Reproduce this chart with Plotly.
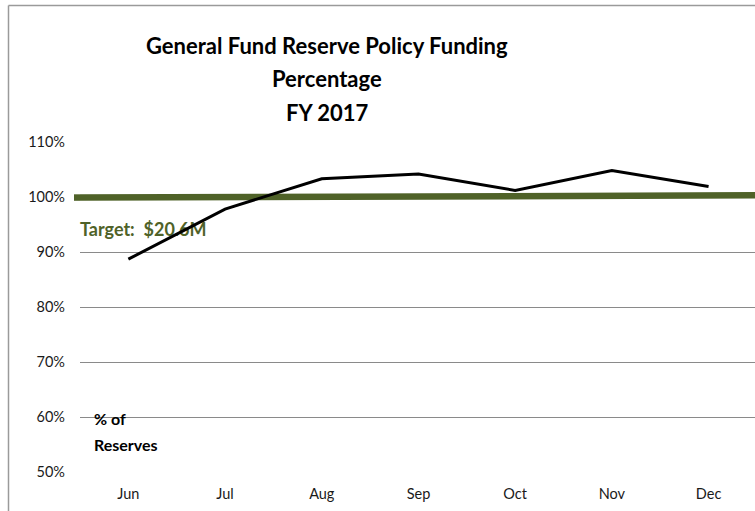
import plotly.graph_objects as go

# Monthly reserve funding level, percent of policy target
months = ["Jun", "Jul", "Aug", "Sep", "Oct", "Nov", "Dec"]
reserve_pct = [88.7, 97.8, 103.3, 104.2, 101.2, 104.8, 101.9]

# Target line (policy funding level), drawn across the full width
target_pct = [99.9, 100.3]
target_label = "Target:\u00a0\u00a0$20.6M"

y_ticks = [50, 60, 70, 80, 90, 100, 110]

W, H = 755, 511
ML, MR, MT, MB = 80, 0, 142, 39
X_RANGE = [-0.5, 6.48]
Y_RANGE = [50, 110]

FONT = "Lato"
OLIVE = "#4F6228"
GRID = "#8A8A8A"

x_idx = list(range(len(months)))

fig = go.Figure()

# Target bar line
fig.add_trace(go.Scatter(
    x=[X_RANGE[0], X_RANGE[1]], y=target_pct,
    mode="lines", line=dict(color=OLIVE, width=6.5),
    hoverinfo="skip", showlegend=False,
))

# Target label (kept below the reserve line)
fig.add_trace(go.Scatter(
    x=[X_RANGE[0]], y=[93.7], mode="text", text=[f"<b>{target_label}</b>"],
    textposition="middle right",
    textfont=dict(family=FONT, size=18, color=OLIVE),
    cliponaxis=False, hoverinfo="skip", showlegend=False,
))

# Reserve percentage line
fig.add_trace(go.Scatter(
    x=x_idx, y=reserve_pct, mode="lines",
    line=dict(color="#000000", width=3),
    showlegend=False,
))

plot_w = W - ML - MR
plot_h = H - MT - MB


def px_to_paper_x(px):
    return (px - ML) / plot_w


def px_to_paper_y(py):
    return (H - MB - py) / plot_h


title_lines = ["General Fund Reserve Policy Funding", "Percentage", "FY 2017"]
title_y = [45, 78, 112]
annotations = []
for line, ty in zip(title_lines, title_y):
    annotations.append(dict(
        text=f"<b>{line}</b>", x=px_to_paper_x(327), y=px_to_paper_y(ty),
        xref="paper", yref="paper", xanchor="center", yanchor="middle",
        showarrow=False, font=dict(family=FONT, size=22, color="#000000"),
    ))

annotations.append(dict(
    text="<b>% of</b>", x=px_to_paper_x(92), y=px_to_paper_y(418),
    xref="paper", yref="paper", xanchor="left", yanchor="middle",
    showarrow=False, font=dict(family=FONT, size=16, color="#000000"),
))
annotations.append(dict(
    text="<b>Reserves</b>", x=px_to_paper_x(92), y=px_to_paper_y(444),
    xref="paper", yref="paper", xanchor="left", yanchor="middle",
    showarrow=False, font=dict(family=FONT, size=16, color="#000000"),
))

# Chart frame (top and left edges) and the target bar's short lead-in
shapes = [
    dict(type="line", xref="paper", yref="paper",
         x0=px_to_paper_x(8.5), x1=px_to_paper_x(W + 5),
         y0=px_to_paper_y(5.5), y1=px_to_paper_y(5.5),
         line=dict(color="#9A9A9A", width=1.5)),
    dict(type="line", xref="paper", yref="paper",
         x0=px_to_paper_x(8.5), x1=px_to_paper_x(8.5),
         y0=px_to_paper_y(5.5), y1=px_to_paper_y(H + 5),
         line=dict(color="#9A9A9A", width=1.5)),
    dict(type="line", xref="paper", yref="y",
         x0=px_to_paper_x(74), x1=0,
         y0=target_pct[0], y1=target_pct[0],
         line=dict(color=OLIVE, width=6.5), layer="below"),
]

fig.update_layout(
    width=W, height=H,
    margin=dict(l=ML, r=MR, t=MT, b=MB, pad=0),
    paper_bgcolor="#FFFFFF", plot_bgcolor="#FFFFFF",
    annotations=annotations, shapes=shapes,
    font=dict(family=FONT, color="#1A1A1A"),
)
fig.update_xaxes(
    range=X_RANGE, tickmode="array", tickvals=x_idx, ticktext=months,
    showgrid=False, zeroline=False, showline=False, ticks="",
    tickfont=dict(family=FONT, size=14.5, color="#1A1A1A"),
    ticklabelstandoff=11,
)
fig.update_yaxes(
    range=Y_RANGE, tickmode="array", tickvals=y_ticks,
    ticktext=[f"{v}%" for v in y_ticks],
    showgrid=True, gridcolor=GRID, gridwidth=1,
    zeroline=False, showline=False, ticks="",
    tickfont=dict(family=FONT, size=14.5, color="#1A1A1A"),
    ticklabelstandoff=14,
)

fig.write_html("out.html")
